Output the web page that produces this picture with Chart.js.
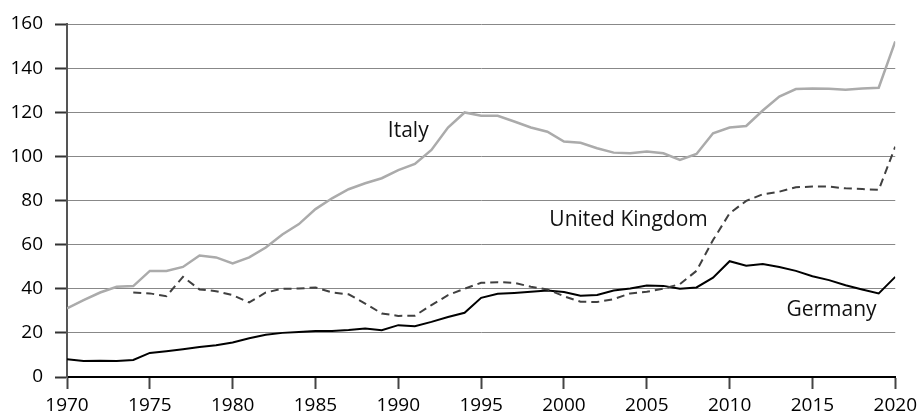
<!DOCTYPE html>
<html lang="en">
<head>
    <meta charset="UTF-8">
    <title>Debt chart</title>
    <script src="https://cdn.jsdelivr.net/npm/chart.js"></script>
    <style>
        body { margin: 0; background: #fff; }
    </style>
</head>
<body>
    <canvas id="debtChart" width="922" height="417"></canvas>

    <script>
        const years = [1970, 1971, 1972, 1973, 1974, 1975, 1976, 1977, 1978, 1979,
                       1980, 1981, 1982, 1983, 1984, 1985, 1986, 1987, 1988, 1989,
                       1990, 1991, 1992, 1993, 1994, 1995, 1996, 1997, 1998, 1999,
                       2000, 2001, 2002, 2003, 2004, 2005, 2006, 2007, 2008, 2009,
                       2010, 2011, 2012, 2013, 2014, 2015, 2016, 2017, 2018, 2019, 2020];

        const italy = [31.1, 34.8, 38.3, 40.9, 41.2, 48.1, 48.1, 49.9, 55.1, 54.2,
                       51.5, 54.2, 58.7, 64.6, 69.3, 76.1, 81.0, 85.1, 87.8, 90.1,
                       93.8, 96.6, 102.9, 113.1, 119.9, 118.4, 118.4, 115.8, 113.1, 111.2,
                       106.7, 106.2, 103.7, 101.7, 101.4, 102.2, 101.4, 98.4, 101.1, 110.5,
                       113.1, 113.8, 120.8, 127.1, 130.5, 130.8, 130.6, 130.2, 130.8, 131.1, 152.1];

        const uk = [null, null, null, null, 38.3, 37.9, 36.6, 45.4, 39.7, 38.9,
                    37.1, 33.8, 38.3, 40.0, 40.1, 40.6, 38.3, 37.5, 33.3, 28.8,
                    27.7, 27.8, 32.6, 37.1, 40.0, 42.7, 43.0, 42.7, 40.9, 39.7,
                    36.6, 34.1, 34.0, 35.3, 37.9, 38.6, 40.1, 42.1, 48.1, 62.1,
                    74.2, 79.8, 82.8, 84.0, 86.0, 86.3, 86.3, 85.5, 85.2, 84.8, 104.4];

        const germany = [8.0, 7.3, 7.4, 7.3, 7.7, 10.9, 11.7, 12.6, 13.6, 14.4,
                         15.6, 17.6, 19.1, 20.0, 20.4, 20.9, 20.9, 21.3, 22.0, 21.2,
                         23.5, 23.0, 25.0, 27.2, 29.1, 35.9, 37.7, 38.1, 38.6, 39.2,
                         38.5, 36.8, 37.2, 39.2, 40.1, 41.5, 41.3, 40.0, 40.6, 45.0,
                         52.5, 50.4, 51.2, 49.9, 48.1, 45.7, 43.9, 41.6, 39.7, 37.9, 45.4];

        // series name labels placed in data units
        const seriesLabels = ['Italy', 'United Kingdom', 'Germany'];
        const labelYears = [1990.6, 2003.9, 2016.15];
        const labelValues = [111.3, 71.0, 30.2];

        const toPoints = arr => arr.map((v, i) => ({ x: years[i], y: v }));

        const lineLabels = {
            id: 'lineLabels',
            afterDatasetsDraw(chart) {
                const ctx = chart.ctx;
                ctx.save();
                ctx.font = '21px "Open Sans"';
                ctx.fillStyle = '#111';
                ctx.textAlign = 'center';
                ctx.textBaseline = 'middle';
                seriesLabels.forEach((txt, i) => {
                    const x = chart.scales.x.getPixelForValue(labelYears[i]);
                    const y = chart.scales.y.getPixelForValue(labelValues[i]);
                    ctx.fillText(txt, x, y);
                });
                ctx.restore();
            }
        };

        const ctx = document.getElementById('debtChart').getContext('2d');
        new Chart(ctx, {
            type: 'line',
            data: {
                datasets: [
                    {
                        label: 'Italy',
                        data: toPoints(italy),
                        borderColor: '#ababab',
                        borderWidth: 2.5
                    },
                    {
                        label: 'United Kingdom',
                        data: toPoints(uk),
                        borderColor: '#404040',
                        borderWidth: 2,
                        borderDash: [8, 5]
                    },
                    {
                        label: 'Germany',
                        data: toPoints(germany),
                        borderColor: '#000',
                        borderWidth: 2
                    }
                ]
            },
            options: {
                responsive: false,
                animation: false,
                layout: { padding: { top: 24, right: 25, left: 0, bottom: 0 } },
                elements: { point: { radius: 0 }, line: { tension: 0 } },
                plugins: { legend: { display: false }, tooltip: { enabled: false } },
                scales: {
                    x: {
                        type: 'linear',
                        min: 1970,
                        max: 2020,
                        afterFit(scale) { scale.height = 40; },
                        ticks: {
                            stepSize: 5,
                            color: '#000',
                            font: { family: 'Open Sans', size: 19 },
                            padding: 5,
                            maxRotation: 0,
                            callback: v => String(v)
                        },
                        grid: {
                            drawOnChartArea: false,
                            tickLength: 12,
                            tickColor: '#444',
                            tickWidth: 2
                        },
                        border: { color: '#000', width: 2 }
                    },
                    y: {
                        min: 0,
                        max: 160,
                        afterFit(scale) { scale.width = 67; },
                        ticks: {
                            stepSize: 20,
                            color: '#000',
                            font: { family: 'Open Sans', size: 19 },
                            padding: 12
                        },
                        grid: {
                            color: '#888',
                            lineWidth: 1,
                            borderDash: [4, 3],
                            tickBorderDash: [],
                            tickLength: 12,
                            tickColor: '#333',
                            tickWidth: 2
                        },
                        border: { color: '#555', width: 2 }
                    }
                }
            },
            plugins: [lineLabels]
        });
    </script>
</body>
</html>
